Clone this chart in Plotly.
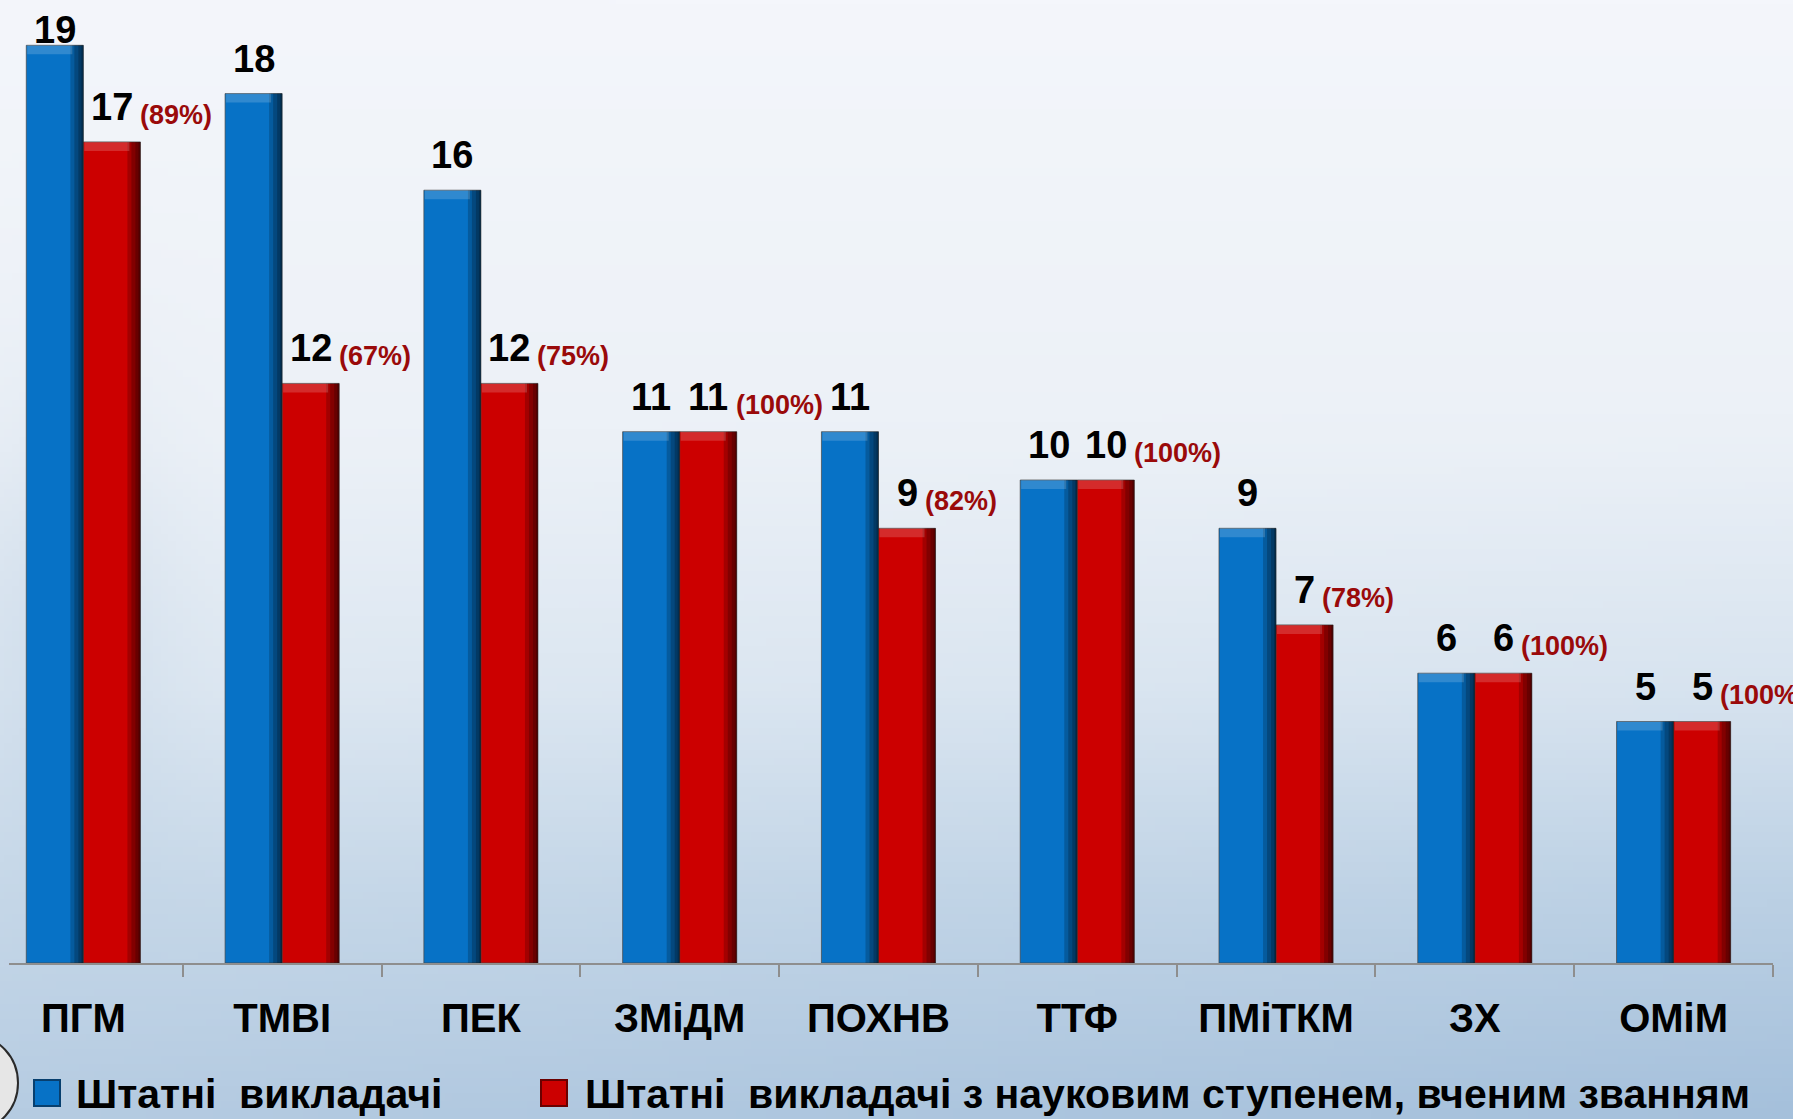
import base64
import struct
import zlib

import numpy as np
import plotly.graph_objects as go

# ---------------- data ----------------
categories = ["ПГМ", "ТМВІ", "ПЕК", "ЗМіДМ", "ПОХНВ", "ТТФ", "ПМіТКМ", "ЗХ", "ОМіМ"]
staff = [19, 18, 16, 11, 11, 10, 9, 6, 5]
staff_with_degree = [17, 12, 12, 11, 9, 10, 7, 6, 5]
degree_share = ["(89%)", "(67%)", "(75%)", "(100%)", "(82%)", "(100%)", "(78%)", "(100%)", "(100%)"]
series_names = [
    "Штатні\u00a0 викладачі",
    "Штатні\u00a0 викладачі з науковим ступенем, вченим званням",
]

# ---------------- geometry / style ----------------
W, H = 1793, 1119
ML, MR, MT, MB = 9, 20, 0, 156
PW, PH = W - ML - MR, H - MT - MB
PX_PER_UNIT = 48.3
Y_TOP = PH / PX_PER_UNIT
X_RANGE = [-0.374, 8.5]
CAT_PX = PW / (X_RANGE[1] - X_RANGE[0])
BAR_W = 0.287                      # width of one bar, in category units
HALF_OFF = BAR_W * CAT_PX / 2

BLUE = "#0772c6"
RED = "#cc0000"
OUTLINE = "rgba(70,70,70,0.7)"
PCT_COLOR = "#9a0a0a"
FONT = "Liberation Sans, Arial, sans-serif"


def png_data_uri(arr):
    h, w, _ = arr.shape
    raw = b"".join(b"\x00" + arr[r].tobytes() for r in range(h))

    def chunk(t, d):
        c = struct.pack(">I", len(d)) + t + d
        return c + struct.pack(">I", zlib.crc32(t + d) & 0xFFFFFFFF)

    png = (b"\x89PNG\r\n\x1a\n"
           + chunk(b"IHDR", struct.pack(">IIBBBBB", w, h, 8, 2, 0, 0, 0))
           + chunk(b"IDAT", zlib.compress(raw, 9))
           + chunk(b"IEND", b""))
    return "data:image/png;base64," + base64.b64encode(png).decode()


def background():
    gw, gh = 240, 150
    u = np.linspace(0, 1, gw)[None, :]
    v = np.linspace(0, 1, gh)[:, None]
    stops_v = [0.0, 0.40, 0.62, 0.80, 1.0]
    stops_c = np.array([[244, 246, 251], [236, 241, 247], [222, 232, 242],
                        [200, 217, 233], [182, 204, 226]], float)
    base = np.stack([np.interp(v[:, 0], stops_v, stops_c[:, k]) for k in range(3)], -1)
    img = np.repeat(base[:, None, :], gw, axis=1)
    shade = (u * np.clip(v - 0.35, 0, 1))[..., None] * np.array([26, 18, 10])[None, None, :]
    img = img - shade
    grey = (np.exp(-((u - 0.03) / 0.06) ** 2) * np.exp(-((v - 0.55) / 0.2) ** 2))[..., None] * np.array([14, 10, 6])
    img = img - grey
    return png_data_uri(np.clip(img, 0, 255).astype(np.uint8))


fig = go.Figure()
series = [(staff, BLUE, -BAR_W, series_names[0]), (staff_with_degree, RED, 0.0, series_names[1])]
for vals, col, off, name in series:
    fig.add_trace(go.Bar(x=categories, y=vals, name=name, showlegend=False,
                         offset=off, width=BAR_W,
                         marker=dict(color=col, line=dict(color=OUTLINE, width=1))))
# 3-D look: darker right edge (stacked translucent strips) and a lighter top bevel
for vals, col, off, name in series:
    for px in (13, 9, 5, 2):
        w = px / CAT_PX
        fig.add_trace(go.Bar(x=categories, y=vals, showlegend=False, hoverinfo="skip",
                             offset=off + BAR_W - w, width=w,
                             marker=dict(color="rgba(0,0,0,0.2)", line=dict(width=0))))
    bevel = 9 / PX_PER_UNIT
    fig.add_trace(go.Bar(x=categories, y=[bevel] * len(vals), base=[v - bevel for v in vals],
                         showlegend=False, hoverinfo="skip",
                         offset=off + 1 / CAT_PX, width=BAR_W - 12 / CAT_PX,
                         marker=dict(color="rgba(255,255,255,0.17)", line=dict(width=0))))

annotations = []
NUM_SIZE, PCT_SIZE = 38, 27
for cat, v in zip(categories, staff):
    bar_top = PH - v * PX_PER_UNIT
    ys = 12
    glyph_top = bar_top - 22 - 28
    if glyph_top < 15:
        ys -= 15 - glyph_top
    annotations.append(dict(x=cat, y=v, xref="x", yref="y", text=f"<b>{v}</b>",
                            showarrow=False, xshift=-HALF_OFF, yshift=ys, yanchor="bottom",
                            font=dict(family=FONT, size=NUM_SIZE, color="black")))
for cat, v, p in zip(categories, staff_with_degree, degree_share):
    annotations.append(dict(x=cat, y=v, xref="x", yref="y", text=f"<b>{v}</b>",
                            showarrow=False, xshift=HALF_OFF, yshift=12, yanchor="bottom",
                            font=dict(family=FONT, size=NUM_SIZE, color="black")))
    annotations.append(dict(x=cat, y=v, xref="x", yref="y", text=f"<b>{p}</b>",
                            showarrow=False, xanchor="left",
                            xshift=HALF_OFF + 10.5 * len(str(v)) + 5, yshift=10, yanchor="bottom",
                            font=dict(family=FONT, size=PCT_SIZE, color=PCT_COLOR)))

# legend (drawn as text + swatches)
legend_items = [(series_names[0], BLUE, "#073f6e", 34, 74),
                (series_names[1], RED, "#6a0000", 541, 583)]
shapes = []
for name, col, edge, sx, tx in legend_items:
    shapes.append(dict(type="rect", xref="paper", yref="paper", xsizemode="pixel", ysizemode="pixel",
                       xanchor=0, yanchor=0, x0=sx - ML, x1=sx - ML + 26,
                       y0=-(1106 - PH), y1=-(1080 - PH),
                       fillcolor=col, line=dict(color=edge, width=2), layer="above"))
    annotations.append(dict(x=(tx - ML) / PW, y=-(1094 - PH) / PH, xref="paper", yref="paper",
                            xanchor="left", yanchor="middle", showarrow=False,
                            text=f"<b>{name}</b>",
                            font=dict(family=FONT, size=41, color="black")))

shapes.append(dict(type="circle", xref="paper", yref="paper", xsizemode="pixel", ysizemode="pixel",
                   xanchor=0, yanchor=0, x0=-ML - 70, x1=-ML + 18, y0=-(1130 - PH), y1=-(1036 - PH),
                   fillcolor="#e6e6e6", line=dict(color="#2a2a2a", width=2), layer="above"))

fig.update_layout(
    width=W, height=H,
    margin=dict(l=ML, r=MR, t=MT, b=MB, pad=0),
    barmode="overlay",
    paper_bgcolor="#e3ebf4", plot_bgcolor="rgba(0,0,0,0)",
    font=dict(family=FONT, color="black"),
    xaxis=dict(range=X_RANGE, showline=True, linecolor="#8e8e8e", linewidth=2,
               ticks="outside", tickson="boundaries", ticklen=12, tickwidth=2,
               tickcolor="#8e8e8e", showgrid=False, zeroline=False,
               tickfont=dict(family=FONT, size=40, color="black"),
               ticklabelstandoff=19, tickprefix="<b>", ticksuffix="</b>", fixedrange=True),
    yaxis=dict(range=[0, Y_TOP], visible=False, showgrid=False, zeroline=False, fixedrange=True),
    showlegend=False,
    annotations=annotations,
    shapes=shapes,
    images=[dict(source=background(), xref="paper", yref="paper",
                 x=-ML / PW, y=1 + MT / PH, sizex=W / PW, sizey=H / PH,
                 xanchor="left", yanchor="top", sizing="stretch", layer="below")],
)

fig.write_html("out.html", include_plotlyjs=True, config={"displayModeBar": False},
               post_script="document.body.style.margin='0';document.body.style.overflow='hidden';")
